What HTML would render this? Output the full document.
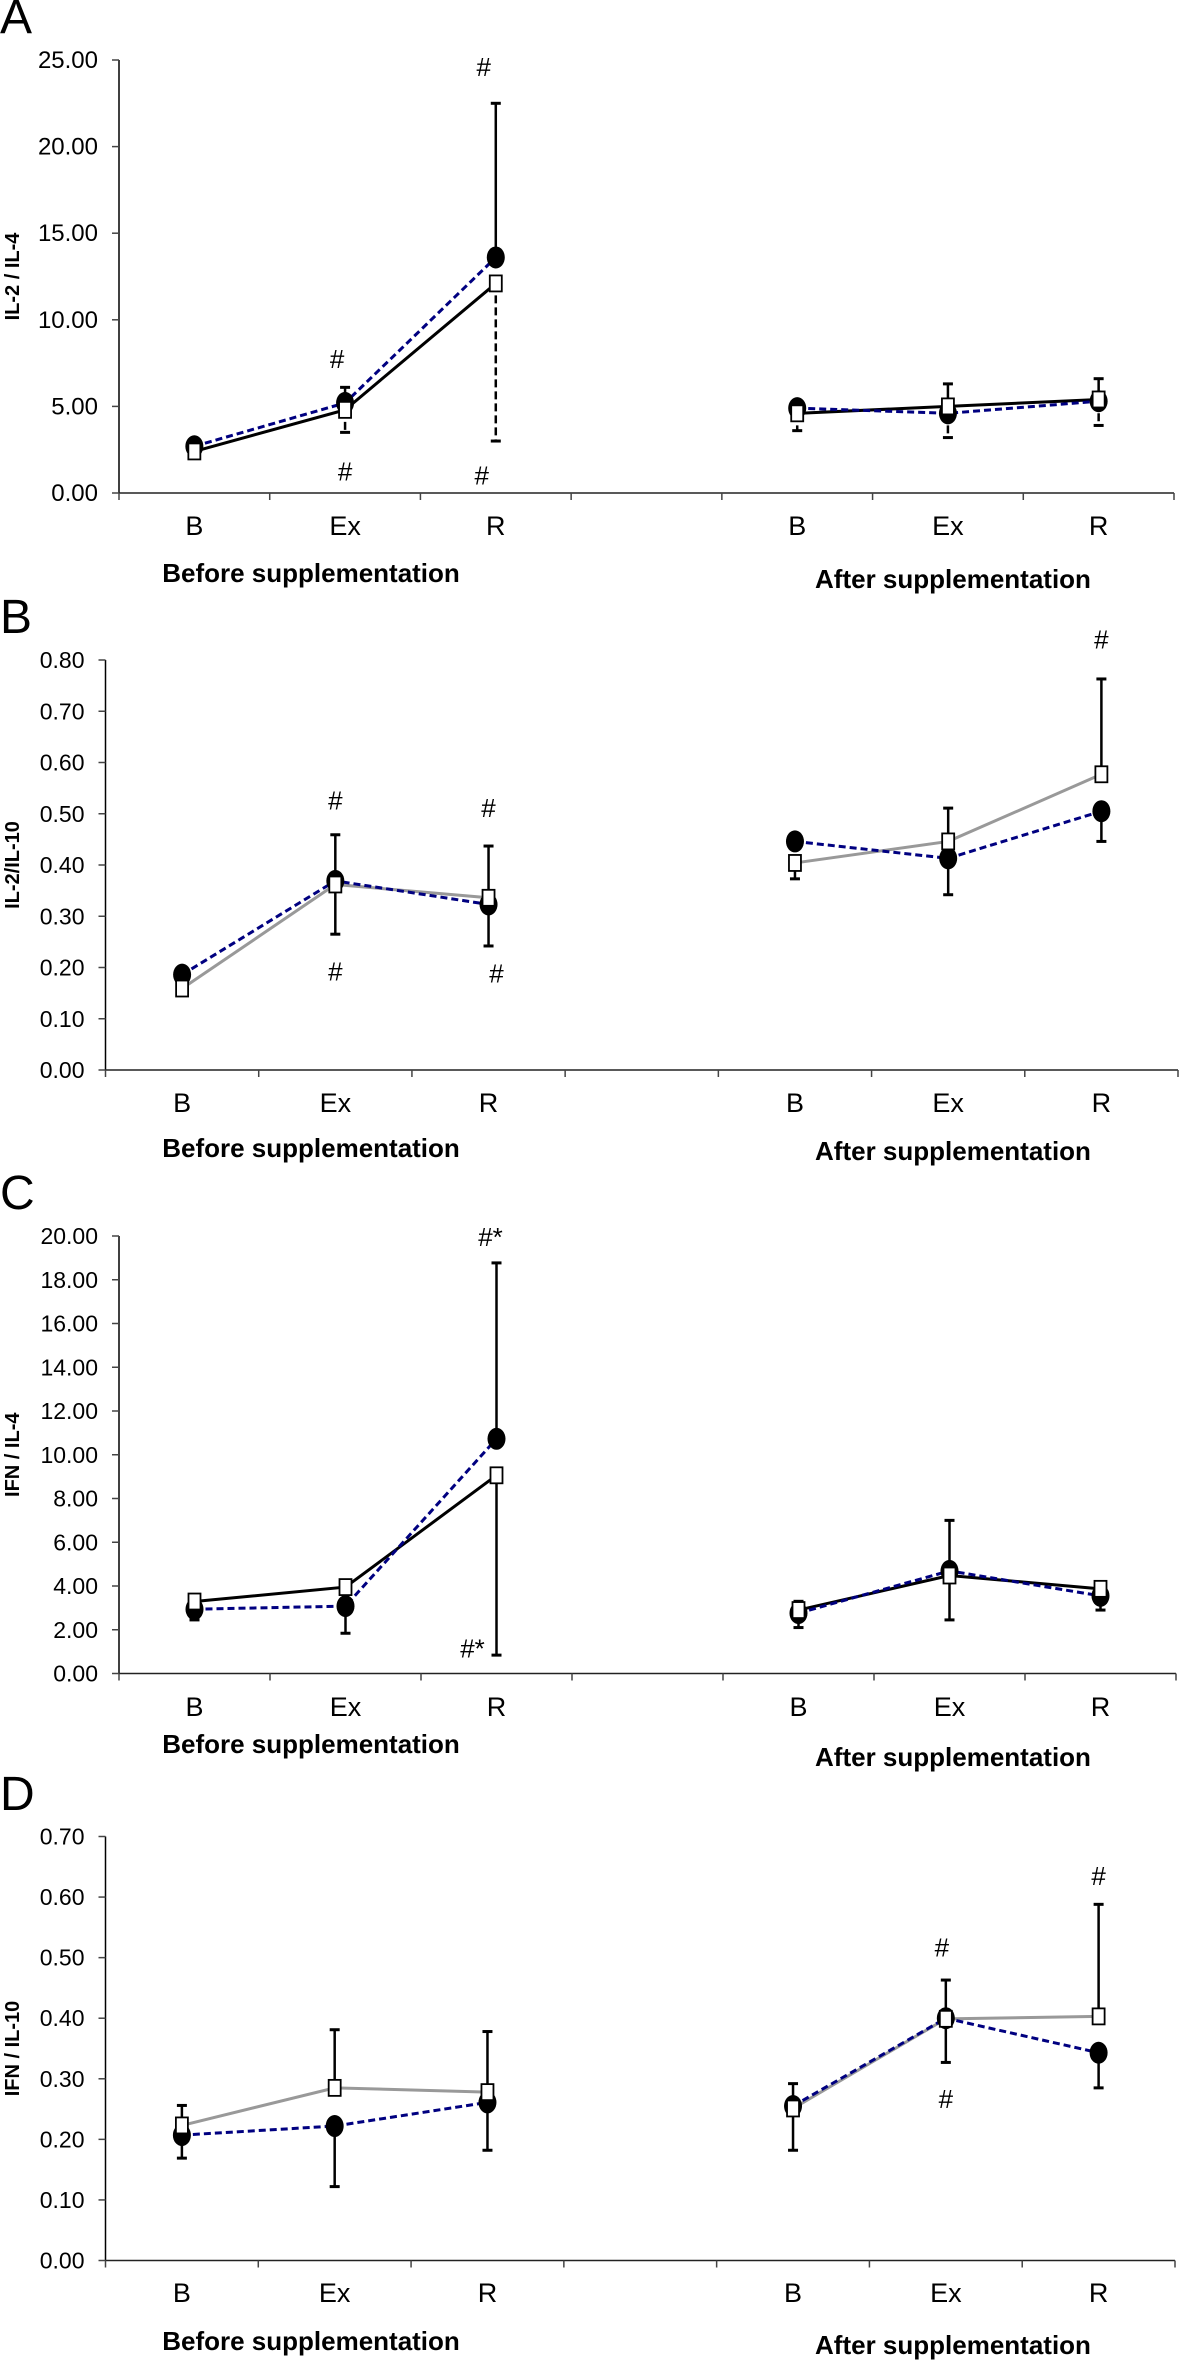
<!DOCTYPE html>
<html><head><meta charset="utf-8"><style>
html,body{margin:0;padding:0;background:#fff}
svg{display:block}
text{font-family:"Liberation Sans",Arial,sans-serif}
</style></head>
<body>
<svg id="fig" width="1181" height="2360" viewBox="0 0 1181 2360" xmlns="http://www.w3.org/2000/svg"></svg>
<script>
// Shared categories
const catLabels = ["B","Ex","R","B","Ex","R"];
const catSlots = [0,1,2,4,5,6];

// Panel A: IL-2 / IL-4
const aTicks = [0,5,10,15,20,25];
const aCircle = [2.7,5.2,13.6,4.9,4.6,5.3];
const aSquare = [2.4,4.8,12.1,4.6,5.0,5.4];
const aErrUp = [null,6.1,22.5,5.3,6.3,6.6];
const aErrDown = [null,3.5,3.0,3.6,3.2,3.9];
const aMarks = [[2,24.6,"#",-12],[1,7.75,"#",-8],[1,1.25,"#",0],[2,1.0,"#",-14]];

// Panel B: IL-2/IL-10
const bTicks = [0,0.1,0.2,0.3,0.4,0.5,0.6,0.7,0.8];
const bCircle = [0.186,0.369,0.323,0.446,0.413,0.505];
const bSquare = [0.159,0.362,0.336,0.404,0.446,0.577];
const bErrUp = [null,0.459,0.437,null,0.511,0.763];
const bErrDown = [null,0.265,0.242,0.373,0.342,0.446];
const bMarks = [[1,0.526,"#",0],[1,0.192,"#",0],[2,0.511,"#",0],[2,0.188,"#",8],[5,0.84,"#",0]];

// Panel C: IFN / IL-4
const cTicks = [0,2,4,6,8,10,12,14,16,18,20];
const cCircle = [2.94,3.08,10.73,2.76,4.69,3.55];
const cSquare = [3.29,3.95,9.06,2.9,4.48,3.87];
const cErrUp = [null,null,18.77,3.3,7.0,4.15];
const cErrDown = [2.45,1.84,0.84,2.1,2.45,2.9];
const cMarks = [[2,19.95,"#*",-6],[2,1.14,"#*",-24]];

// Panel D: IFN / IL-10
const dTicks = [0,0.1,0.2,0.3,0.4,0.5,0.6,0.7];
const dCircle = [0.207,0.222,0.261,0.255,0.40,0.343];
const dSquare = [0.223,0.285,0.278,0.251,0.399,0.403];
const dErrUp = [0.256,0.381,0.378,0.292,0.463,0.588];
const dErrDown = [0.169,0.122,0.182,0.182,0.327,0.285];
const dMarks = [[4,0.517,"#",-4],[4,0.267,"#",0],[5,0.635,"#",0]];

const NS = "http://www.w3.org/2000/svg";
const svg = document.getElementById("fig");
function mk(tag, attrs, parent){
  const e = document.createElementNS(NS, tag);
  for (const k in attrs) e.setAttribute(k, attrs[k]);
  (parent||svg).appendChild(e);
  return e;
}

function panel(cfg){
  const g = mk("g", {});
  
  
  const ymax = cfg.ticks[cfg.ticks.length-1];
  const yS = v => cfg.y0 - (v/ymax)*(cfg.y0-cfg.yTop);
  const slot = (cfg.x1-cfg.x0)/7;
  const xS = i => cfg.x0 + (catSlots[i]+0.5)*slot;

  const letter = mk("text", {x:0, y:cfg.letterY, "font-family":"Liberation Serif, serif", "font-size":48}, g);
  letter.textContent = cfg.id;
  
  

  const yt = mk("text", {x:0,y:0,"font-size":20,"font-weight":"bold","text-anchor":"middle",
    transform:`translate(19,${(cfg.y0+cfg.yTop)/2}) rotate(-90)`}, g);
  yt.textContent = cfg.title;
  
  

  const ya = mk("line",{x1:cfg.x0,y1:cfg.yTop,x2:cfg.x0,y2:cfg.y0,stroke:"#000","stroke-width":1.5},g);
  
  
  const xa = mk("line",{x1:cfg.x0,y1:cfg.y0,x2:cfg.x1,y2:cfg.y0,stroke:"#222","stroke-width":1.5},g);
  
  
  cfg.ticks.forEach(t=>{
    const y = yS(t);
    mk("line",{x1:cfg.x0-7,y1:y,x2:cfg.x0,y2:y,stroke:"#444","stroke-width":1.5},g);
    const tl = mk("text",{x:cfg.x0-21,y:y+8,"font-size":cfg.tickFont,"text-anchor":"end"},g);
    tl.textContent = t.toFixed(2);
    
    
  });
  for(let k=0;k<=7;k++){
    const x = cfg.x0 + k*slot;
    mk("line",{x1:x,y1:cfg.y0,x2:x,y2:cfg.y0+7,stroke:"#444","stroke-width":1.5},g);
  }
  catLabels.forEach((c,i)=>{
    const t = mk("text",{x:xS(i),y:cfg.labY,"font-size":27,"text-anchor":"middle"},g);
    t.textContent = c;
    
    
  });
  const gb = mk("text",{x:311,y:cfg.grpY1,"font-size":26,"font-weight":"bold","text-anchor":"middle"},g);
  gb.textContent = "Before supplementation";
  
  
  const ga = mk("text",{x:953,y:cfg.grpY2,"font-size":26,"font-weight":"bold","text-anchor":"middle"},g);
  ga.textContent = "After supplementation";
  
  

  function poly(vals, attrs, name){
    [[0,1,2],[3,4,5]].forEach(ix=>{
      const pts = ix.map(i=>xS(i)+","+yS(vals[i])).join(" ");
      const p = mk("polyline", Object.assign({points:pts,fill:"none"},attrs), g);
      
      
    });
  }
  poly(cfg.square, {stroke:cfg.sqColor,"stroke-width":3}, 'square-series-line');
  poly(cfg.circle, {stroke:"#000080","stroke-width":3,"stroke-dasharray":"7 4"}, 'circle-series-line');

  for(let i=0;i<6;i++){
    const x = xS(i);
    const hi = Math.max(cfg.circle[i], cfg.square[i]);
    const lo = Math.min(cfg.circle[i], cfg.square[i]);
    if(cfg.up[i]!=null){
      const e = mk("line",{x1:x,y1:yS(hi),x2:x,y2:yS(cfg.up[i]),stroke:"#000","stroke-width":2.5},g);
      
      
      mk("line",{x1:x-5,y1:yS(cfg.up[i]),x2:x+5,y2:yS(cfg.up[i]),stroke:"#000","stroke-width":3},g);
    }
    if(cfg.down[i]!=null){
      const da = cfg.downDash ? {"stroke-dasharray":"8 4"} : {};
      const e = mk("line",Object.assign({x1:x,y1:yS(lo),x2:x,y2:yS(cfg.down[i]),stroke:"#000","stroke-width":2.5},da),g);
      
      
      mk("line",{x1:x-5,y1:yS(cfg.down[i]),x2:x+5,y2:yS(cfg.down[i]),stroke:"#000","stroke-width":3},g);
    }
  }
  for(let i=0;i<6;i++){
    const c = mk("ellipse",{cx:xS(i),cy:yS(cfg.circle[i]),rx:9,ry:11,fill:"#000"},g);
    
    
  }
  for(let i=0;i<6;i++){
    const s = mk("rect",{x:xS(i)-6,y:yS(cfg.square[i])-8,width:12,height:16,fill:"#fff",stroke:"#000","stroke-width":1.8},g);
    
    
  }
  cfg.marks.forEach(m=>{
    const t = mk("text",{x:xS(m[0])+(m[3]||0),y:yS(m[1])+9,"font-size":26,"font-family":"Liberation Serif, serif","text-anchor":"middle"},g);
    t.textContent = m[2];
    
    
  });
}

panel({id:"A",title:"IL-2 / IL-4",ticks:aTicks,circle:aCircle,square:aSquare,up:aErrUp,down:aErrDown,marks:aMarks,
  x0:119,x1:1174,yTop:60,y0:493,letterY:33,labY:535,grpY1:582,grpY2:588,sqColor:"#000",downDash:true,tickFont:24});
panel({id:"B",title:"IL-2/IL-10",ticks:bTicks,circle:bCircle,square:bSquare,up:bErrUp,down:bErrDown,marks:bMarks,
  x0:105.5,x1:1178,yTop:660,y0:1070,letterY:633,labY:1112,grpY1:1157,grpY2:1160,sqColor:"#999",downDash:false,tickFont:23});
panel({id:"C",title:"IFN / IL-4",ticks:cTicks,circle:cCircle,square:cSquare,up:cErrUp,down:cErrDown,marks:cMarks,
  x0:119,x1:1176,yTop:1236,y0:1673.5,letterY:1209,labY:1716,grpY1:1753,grpY2:1766,sqColor:"#000",downDash:false,tickFont:23});
panel({id:"D",title:"IFN / IL-10",ticks:dTicks,circle:dCircle,square:dSquare,up:dErrUp,down:dErrDown,marks:dMarks,
  x0:105.5,x1:1175,yTop:1836.5,y0:2260.5,letterY:1810,labY:2302,grpY1:2350,grpY2:2354,sqColor:"#999",downDash:false,tickFont:23});
</script>
</body></html>
